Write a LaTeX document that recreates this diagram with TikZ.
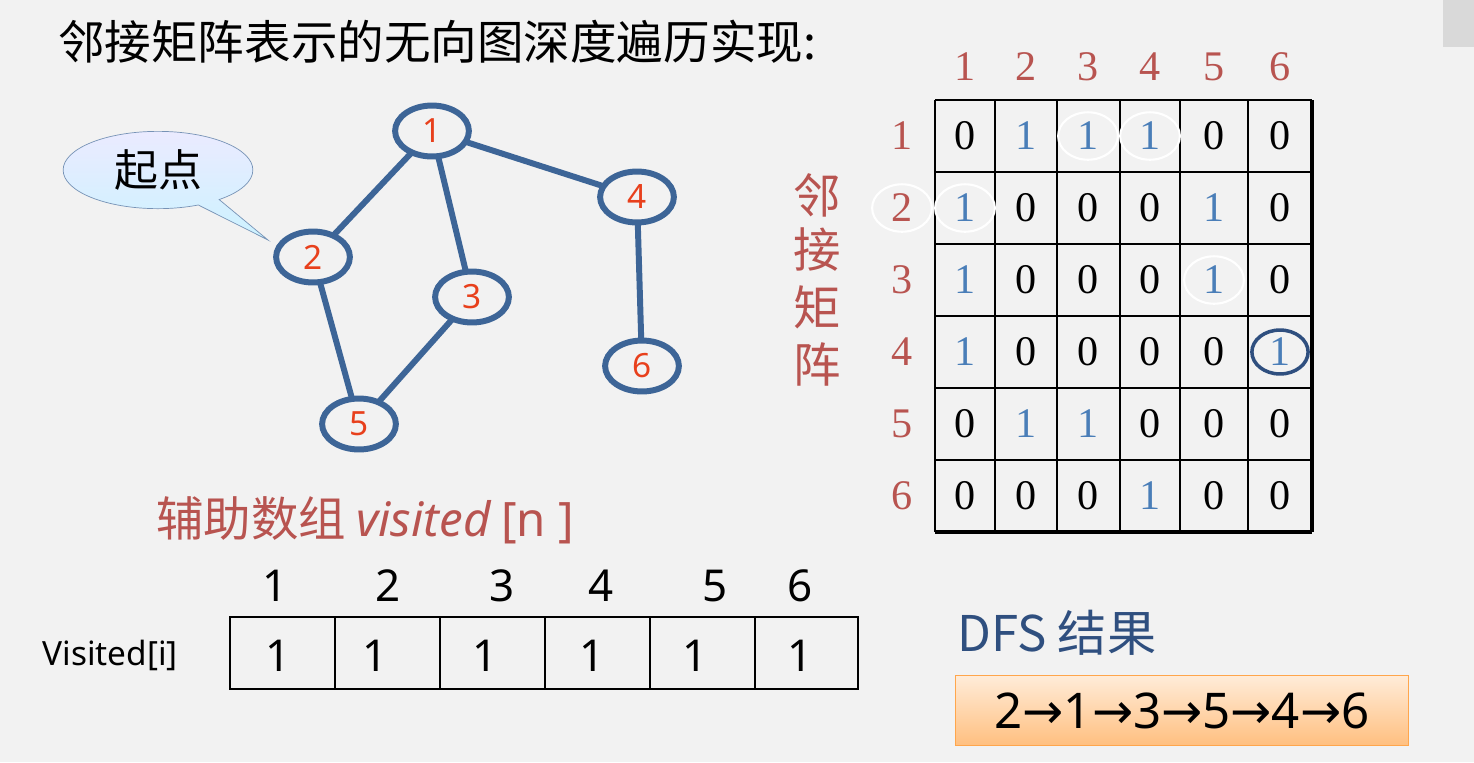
\documentclass[tikz,border=0pt]{standalone}
\usepackage{fontspec}
\setmainfont{Liberation Serif}
\newfontfamily\cjk{Noto Sans CJK SC}
\newfontfamily\sans{Noto Sans}
\newfontfamily\dejavu{DejaVu Sans}
\usetikzlibrary{shapes.geometric,shapes.callouts}
\definecolor{bg}{HTML}{F2F2F2}
\definecolor{gb}{HTML}{3D6597}
\definecolor{rd}{HTML}{E8401C}
\definecolor{mr}{HTML}{B85450}
\definecolor{mb}{HTML}{4A7EB8}
\definecolor{db}{HTML}{2F4F7F}
\begin{document}
\begin{tikzpicture}[x=0.02cm,y=-0.02cm,
  vx/.style={ellipse,draw=gb,line width=3.4pt,minimum width=42pt,minimum height=29pt,inner sep=0,font=\sans\fontsize{19}{19}\selectfont,text=rd,fill=bg},
  ed/.style={gb,line width=3.4pt},
  mnum/.style={font=\fontsize{24}{24}\selectfont},
  lab/.style={font=\fontsize{24}{24}\selectfont,text=mr},
  wc/.style={ellipse,draw=white,line width=1.2pt,minimum width=34pt,minimum height=27pt},
  vnum/.style={font=\sans\fontsize{25}{25}\selectfont}]
\fill[bg] (0,0) rectangle (1474,762);
\fill[black!15] (1443,0) rectangle (1474,47);
\node[anchor=west,font=\cjk\fontsize{26.5}{27}\selectfont] (title) at (52,42) {邻接矩阵表示的无向图深度遍历实现:};
% callout
\node[ellipse callout,draw=gb!70,top color=blue!8,bottom color=blue!25!cyan!20,minimum width=108pt,minimum height=44pt,callout absolute pointer={(268,240)},font=\cjk\fontsize{25}{25}\selectfont] (co) at (158,170) {起点};
% graph
\draw[ed] (432,131) -- (313,257);
\draw[ed] (432,131) -- (472,297);
\draw[ed] (432,131) -- (637,197);
\draw[ed] (313,257) -- (359,424);
\draw[ed] (472,297) -- (359,424);
\draw[ed] (637,197) -- (642,366);
\node[vx] (n1) at (432,131) {1};
\node[vx] (n4) at (637,197) {4};
\node[vx] (n2) at (313,257) {2};
\node[vx] (n3) at (472,297) {3};
\node[vx] (n6) at (642,366) {6};
\node[vx] (n5) at (359,424) {5};
% matrix
\foreach \x in {935,995,1057,1120,1180,1248} \draw[line width=1pt] (\x,100) -- (\x,532);
\draw[line width=2pt] (1312,100) -- (1312,532);
\foreach \y in {100,172,244,316,388,460} \draw[line width=1pt] (935,\y) -- (1312,\y);
\draw[line width=2pt] (935,532) -- (1312,532);
\foreach \c/\x in {1/965,2/1026,3/1088,4/1150,5/1214,6/1280} {
  \node[lab] (cl\c) at (\x,67) {\c};
}
\foreach \r/\y in {1/136,2/208,3/280,4/352,5/424,6/496} {
  \node[lab] (rl\r) at (902,\y) {\r};
}
\foreach \r/\y/\row in {1/136/{0,1,1,1,0,0},2/208/{1,0,0,0,1,0},3/280/{1,0,0,0,1,0},4/352/{1,0,0,0,0,1},5/424/{0,1,1,0,0,0},6/496/{0,0,0,1,0,0}} {
  \foreach \v [count=\c] in \row {
    \pgfmathsetmacro\xx{{965,1026,1088,1150,1214,1280}[\c-1]}
    \ifnum\v=1 \node[mnum,text=mb] (m\r\c) at (\xx,\y) {1};
    \else \node[mnum] (m\r\c) at (\xx,\y) {0}; \fi
  }
}
\node[wc] at (m13) {};
\node[wc] at (m14) {};
\node[wc] at (m21) {};
\node[wc] at (rl2) {};
\node[wc] at (m35) {};
\node[ellipse,draw=db,line width=2pt,minimum width=32pt,minimum height=25pt] at (m46) {};
% vertical label
\foreach \ch/\y in {邻/195,接/250,矩/307,阵/364}
  \node[font=\cjk\fontsize{27}{27}\selectfont,text=mr] at (817,\y) {\ch};
% visited
\node[anchor=west,text=mr,font=\cjk\fontsize{27}{27}\selectfont] (aux) at (150,520) {辅助数组 {\sans\itshape visited} {\sans[n ]}};
\draw[line width=1.6pt] (230,617) rectangle (858,689);
\foreach \x in {335,440,545,650,755} \draw[line width=1.2pt] (\x,617) -- (\x,689);
\foreach \i/\x/\lx in {1/278/275,2/375/388,3/485/502,4/592/601,5/695/715,6/800/800} {
  \node[vnum] (v\i) at (\x,656) {1};
  \node[vnum] (h\i) at (\lx,586) {\i};
}
\node[font=\sans\fontsize{19}{19}\selectfont] (vl) at (110,655) {Visited[i]};
% DFS
\node[text=db,font=\cjk\fontsize{28}{28}\selectfont] (dfs) at (1057,633) {DFS 结果};
\node[draw=orange!70,top color=orange!15,bottom color=orange!50,minimum width=258pt,minimum height=40pt,anchor=north west,font=\sans\fontsize{28}{28}\selectfont] (res) at (955,675) {2{\dejavu→}1{\dejavu→}3{\dejavu→}5{\dejavu→}4{\dejavu→}6};
\end{tikzpicture}
\end{document}
